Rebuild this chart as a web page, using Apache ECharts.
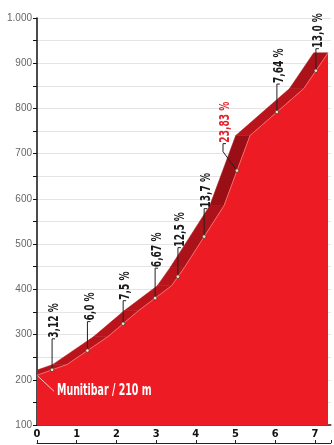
<!DOCTYPE html>
<html>
<head>
<meta charset="utf-8">
<style>
  html, body { margin: 0; padding: 0; background: #ffffff; }
  #chart { width: 334px; height: 445px; }
</style>
<script src="https://cdn.jsdelivr.net/npm/echarts@6/dist/echarts.min.js"></script>
</head>
<body>
<div id="chart"></div>
<script>
// ---- data ----
const kmPoints   = [0, 0.76, 1.78, 2.56, 3.39, 3.71, 4.71, 5.365, 6.72, 7.33];
const elevPoints = [210, 234, 295, 353, 408, 448, 585, 740, 844, 923];
const gradeLabels = ['3,12 %', '6,0 %', '7,5 %', '6,67 %', '12,5 %', '13,7 %', '23,83 %', '7,64 %', '13,0 %'];
const gradeValues = [3.12, 6.0, 7.5, 6.67, 12.5, 13.7, 23.83, 7.64, 13.0];
const startLabel = 'Munitibar / 210 m';
const xTickValues = [0, 1, 2, 3, 4, 5, 6, 7];
const yTickLabels = ['100', '200', '300', '400', '500', '600', '700', '800', '900', '1.000'];

// ---- style ----
const BAND_SHIFT_KM = 0.36;
const LEADER_PX = [31, 29, 23, 30, 29, 28, 27, 28, 22];
const NARROW = "'Liberation Sans Narrow', 'DejaVu Sans Condensed', 'Roboto', sans-serif";
const FRONT = '#ed1c24';
function bandColor(g) {
  if (g >= 20) return '#9a0f16';
  if (g >= 12.8) return '#ab1219';
  return '#b9141c';
}

const profile = kmPoints.map((k, i) => [k, elevPoints[i]]);
const segments = gradeValues.map((g, i) => [kmPoints[i], elevPoints[i], kmPoints[i + 1], elevPoints[i + 1], g]);
const maxGrade = Math.max(...gradeValues);
const labelData = gradeLabels.map((t, i) => [(kmPoints[i] + kmPoints[i + 1]) / 2, (elevPoints[i] + elevPoints[i + 1]) / 2, i]);

const chart = echarts.init(document.getElementById('chart'), null, { renderer: 'canvas' });

const option = {
  animation: false,
  grid: { left: 37, right: 3.2, top: 18, bottom: 20, containLabel: false, outerBoundsMode: 'none' },
  xAxis: [
    {
      type: 'value', min: 0, max: 7.4, interval: 1, position: 'bottom',
      axisLine: { show: true, lineStyle: { color: '#4a1414', width: 1.5 } },
      axisTick: { show: false },
      splitLine: { show: false },
      axisLabel: {
        color: '#111', fontFamily: NARROW, fontWeight: 'bold', fontSize: 11, margin: 4,
        formatter: v => (xTickValues.indexOf(v) >= 0 ? String(v) : '')
      }
    },
    {
      type: 'value', min: 0, max: 7.4, interval: 1, position: 'bottom', offset: 18,
      axisLine: { show: true, lineStyle: { color: '#222', width: 1 } },
      axisTick: { show: true, inside: true, length: 3, lineStyle: { color: '#222', width: 1 } },
      splitLine: { show: false },
      axisLabel: { show: false }
    }
  ],
  yAxis: {
    type: 'value', min: 100, max: 1000, interval: 50,
    axisLine: { show: true, lineStyle: { color: '#111', width: 1.5 } },
    axisTick: { show: true, length: 4, lineStyle: { color: '#111', width: 1 } },
    splitLine: { show: true, lineStyle: { color: '#e4e4e4', width: 1 } },
    axisLabel: {
      color: '#666', fontSize: 10, fontFamily: "'Liberation Sans', Arial, sans-serif", margin: 5,
      formatter: v => (v % 100 === 0 ? yTickLabels[(v - 100) / 100] : '')
    }
  },
  series: [
    {
      type: 'custom', name: 'band', z: 2, clip: true,
      data: segments,
      renderItem: (params, api) => {
        const x1 = api.value(0), y1 = api.value(1), x2 = api.value(2), y2 = api.value(3), g = api.value(4);
        const pts = [
          api.coord([x1, y1]), api.coord([x2, y2]),
          api.coord([x2 - BAND_SHIFT_KM, y2]), api.coord([x1 - BAND_SHIFT_KM, y1])
        ];
        return {
          type: 'polygon',
          shape: { points: pts },
          style: { fill: bandColor(g), stroke: bandColor(g), lineWidth: 0.5 }
        };
      }
    },
    {
      type: 'line', name: 'profile', z: 3,
      data: profile, symbol: 'none',
      lineStyle: { color: '#f26a68', width: 1 },
      areaStyle: { color: FRONT, opacity: 1, origin: 'start' }
    },
    {
      type: 'custom', name: 'grades', z: 5, clip: false,
      data: labelData,
      renderItem: (params, api) => {
        const p = api.coord([api.value(0), api.value(1)]);
        const i = api.value(2);
        const isMax = gradeValues[i] === maxGrade;
        const L = LEADER_PX[i];
        const children = [];
        let tx = p[0], ty = p[1] - L;
        if (isMax) {
          tx = p[0] - 14; ty = p[1] - L;
          children.push({ type: 'polyline', shape: { points: [[p[0], p[1]], [p[0] - 14, p[1] - 19], [tx, ty]] },
            style: { stroke: '#222', lineWidth: 1, fill: null } });
        } else {
          children.push({ type: 'line', shape: { x1: p[0], y1: p[1], x2: tx, y2: ty },
            style: { stroke: '#222', lineWidth: 1 } });
        }
        children.push({ type: 'line', shape: { x1: tx, y1: ty, x2: tx + 3, y2: ty },
          style: { stroke: '#222', lineWidth: 1 } });
        children.push({ type: 'circle', shape: { cx: p[0], cy: p[1], r: 1.8 },
          style: { fill: '#f3e3c0', stroke: '#333', lineWidth: 0.7 } });
        children.push({
          type: 'text', x: tx + 2.5, y: ty - 1, rotation: Math.PI / 2, scaleX: 0.72, scaleY: 1,
          style: {
            text: gradeLabels[i], fill: isMax ? '#e3232b' : '#1a1a1a',
            font: 'bold 14px ' + NARROW, align: 'left', verticalAlign: 'middle'
          }
        });
        return { type: 'group', children: children };
      }
    },
    {
      type: 'custom', name: 'start', z: 6, clip: false,
      data: [[kmPoints[0], elevPoints[0]]],
      renderItem: (params, api) => {
        const p = api.coord([api.value(0), api.value(1)]);
        return {
          type: 'group',
          children: [
            { type: 'line', shape: { x1: p[0] + 1, y1: p[1] + 1, x2: p[0] + 17, y2: p[1] + 16 },
              style: { stroke: '#f7c9c9', lineWidth: 1 } },
            { type: 'text', x: p[0] + 20, y: p[1] + 16, scaleX: 0.7, scaleY: 1,
              style: { text: startLabel, fill: '#ffffff', font: 'bold 15px ' + NARROW,
                align: 'left', verticalAlign: 'middle' } }
          ]
        };
      }
    }
  ]
};
chart.setOption(option);
</script>
</body>
</html>
